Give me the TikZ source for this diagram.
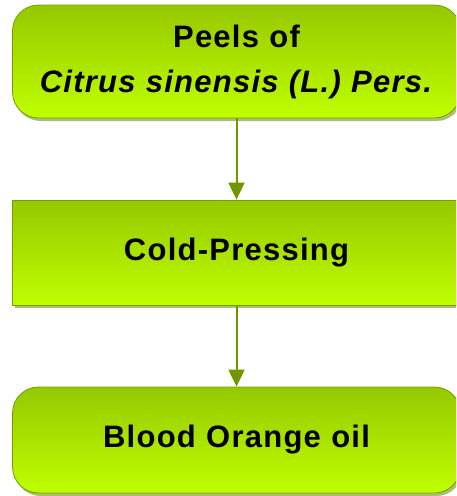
\documentclass[tikz,border=0pt]{standalone}
\usepackage{fontspec}
\setmainfont{Liberation Sans}[LetterSpace=4]
\usetikzlibrary{arrows.meta,shadows}
\definecolor{gtop}{RGB}{150,200,0}
\definecolor{gbot}{RGB}{191,255,0}
\definecolor{gline}{RGB}{118,158,0}
\definecolor{garrow}{RGB}{112,150,0}
\definecolor{gshadow}{RGB}{170,192,120}
\tikzset{
  box/.style={draw=gline, line width=0.8pt, top color=gtop, bottom color=gbot,
    minimum width=448pt, text width=440pt, align=center, inner sep=0pt,
    font=\fontsize{31}{45}\selectfont\bfseries,
    drop shadow={shadow xshift=2pt, shadow yshift=-3pt, fill=gshadow, opacity=1}},
  roundbox/.style={box, rounded corners=26pt},
  flow/.style={draw=garrow, line width=2pt, -{Triangle[width=16pt,length=17pt]}}
}
\begin{document}
\begin{tikzpicture}[x=1pt,y=-1pt]
\useasboundingbox (0,0) rectangle (456,496);
\clip (0,0) rectangle (456,496);
\node[roundbox, minimum height=113pt] (peels) at (236.5,61.5) {Peels of\\\textit{Citrus sinensis (L.) Pers.}};
\node[box, minimum height=105pt] (press) at (236.5,252.5) {Cold-Pressing};
\node[roundbox, minimum height=106pt] (oil) at (236.5,440) {Blood Orange oil};
\draw[flow] (peels) -- (press);
\draw[flow] (press) -- (oil);
\end{tikzpicture}
\end{document}
